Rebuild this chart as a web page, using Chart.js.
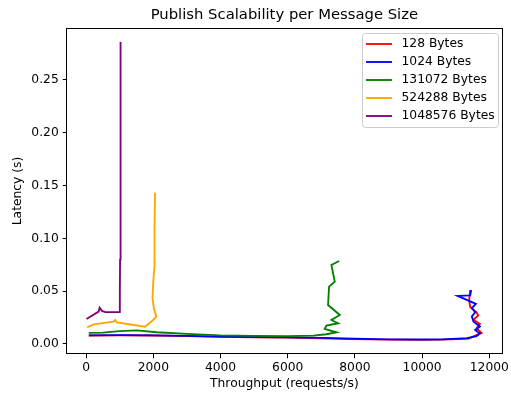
<!DOCTYPE html>
<html>
<head>
<meta charset="utf-8">
<title>Publish Scalability per Message Size</title>
<script src="https://cdn.jsdelivr.net/npm/chart.js@4/dist/chart.umd.min.js"></script>
<style>
    html, body { margin: 0; padding: 0; background: #ffffff; }
    #wrap { width: 511px; height: 394px; }
</style>
</head>
<body>
<div id="wrap"><canvas id="scalabilityChart" width="511" height="394"></canvas></div>
<script>
// --- Data ---
const sizeLabels = ['128 Bytes', '1024 Bytes', '131072 Bytes', '524288 Bytes', '1048576 Bytes'];
const sizeColors = ['#ff0000', '#0000ff', '#008000', '#ffa500', '#800080'];

const thr128 = [80, 1000, 2000, 3000, 4000, 5000, 6000, 7000, 8000, 9000, 10000, 10600, 11380, 11770, 11620, 11720, 11530, 11670, 11620, 11430, 11400, 11430];
const lat128 = [0.0080, 0.0082, 0.0080, 0.0074, 0.0067, 0.0063, 0.0060, 0.0054, 0.0046, 0.0041, 0.0039, 0.0041, 0.0050, 0.0105, 0.0150, 0.0190, 0.0230, 0.0270, 0.0300, 0.0350, 0.0420, 0.0511];

const thr1024 = [80, 1000, 2000, 3000, 4000, 5000, 6000, 7000, 8000, 9000, 10000, 10600, 11330, 11620, 11720, 11580, 11720, 11530, 11480, 11580, 11480, 11600, 11060, 11430, 11460];
const lat1024 = [0.0082, 0.0084, 0.0082, 0.0076, 0.0069, 0.0066, 0.0063, 0.0057, 0.0049, 0.0044, 0.0042, 0.0044, 0.0054, 0.0075, 0.0100, 0.0133, 0.0165, 0.0210, 0.0260, 0.0300, 0.0340, 0.0380, 0.0455, 0.0460, 0.0511];

const thr131072 = [77, 500, 1000, 1500, 2100, 3000, 4000, 5000, 6000, 6760, 7150, 7450, 7100, 7150, 7500, 7300, 7550, 7200, 7230, 7400, 7300, 7530];
const lat131072 = [0.0105, 0.0107, 0.0122, 0.0128, 0.0111, 0.0095, 0.0081, 0.0077, 0.0074, 0.0079, 0.0092, 0.0111, 0.0142, 0.0174, 0.0196, 0.0227, 0.0275, 0.0369, 0.0543, 0.0590, 0.0748, 0.0786];

const thr524288 = [30, 225, 815, 865, 915, 1750, 1995, 2090, 2015, 1975, 2000, 2040, 2035, 2050];
const lat524288 = [0.0158, 0.0186, 0.0211, 0.0227, 0.0205, 0.0164, 0.0227, 0.0259, 0.0338, 0.0433, 0.0600, 0.0764, 0.1080, 0.1433];

const thr1048576 = [10, 370, 400, 470, 570, 990, 1000, 1005, 1010, 1015, 1020, 1025, 1030, 1032];
const lat1048576 = [0.0237, 0.0306, 0.0344, 0.0313, 0.0301, 0.0301, 0.0350, 0.0500, 0.0800, 0.1000, 0.1500, 0.2000, 0.2500, 0.2860];

const throughputTicks = [0, 2000, 4000, 6000, 8000, 10000, 12000];
const latencyTicks = [0, 0.05, 0.10, 0.15, 0.20, 0.25];

const FONT = '"DejaVu Sans", "Liberation Sans", sans-serif';
const BASE_SIZE = 12.3;   // 10pt at ~89 dpi
const TITLE_SIZE = 14.8;  // 12pt

// zip two arrays into {x, y} points
function toPoints(xs, ys) {
    return xs.map((x, i) => ({ x: x, y: ys[i] }));
}

// Frame, title, axis titles and matplotlib-like legend
const decorPlugin = {
    id: 'decor',
    afterDraw(chart) {
        const ctx = chart.ctx;
        const area = chart.chartArea;
        ctx.save();

        // frame (all four spines)
        ctx.strokeStyle = '#000000';
        ctx.lineWidth = 1;
        ctx.strokeRect(Math.round(area.left) - 0.5, Math.round(area.top) + 0.5,
            Math.round(area.right - area.left) + 1, Math.round(area.bottom - area.top) - 1);

        // title
        ctx.fillStyle = '#000000';
        ctx.textAlign = 'center';
        ctx.textBaseline = 'middle';
        ctx.font = TITLE_SIZE + 'px ' + FONT;
        ctx.fillText('Publish Scalability per Message Size', (area.left + area.right) / 2, 15);

        // axis titles
        ctx.font = BASE_SIZE + 'px ' + FONT;
        ctx.fillText('Throughput (requests/s)', (area.left + area.right) / 2, 384);
        ctx.save();
        ctx.translate(18, (area.top + area.bottom) / 2);
        ctx.rotate(-Math.PI / 2);
        ctx.fillText('Latency (s)', 0, 0);
        ctx.restore();

        // legend
        const bx = 362.5, by = 33.5, bw = 136, bh = 94;
        ctx.beginPath();
        ctx.roundRect(bx, by, bw, bh, 3);
        ctx.fillStyle = 'rgba(255,255,255,0.8)';
        ctx.fill();
        ctx.strokeStyle = '#cccccc';
        ctx.lineWidth = 1;
        ctx.stroke();

        ctx.textAlign = 'left';
        ctx.font = BASE_SIZE + 'px ' + FONT;
        sizeLabels.forEach((label, i) => {
            const y = 44 + i * 18;
            ctx.beginPath();
            ctx.moveTo(366, y);
            ctx.lineTo(392, y);
            ctx.strokeStyle = sizeColors[i];
            ctx.lineWidth = 1.85;
            ctx.stroke();
            ctx.fillStyle = '#000000';
            ctx.fillText(label, 401.5, y);
        });
        ctx.restore();
    }
};

function createScalabilityChart() {
    const ctx = document.getElementById('scalabilityChart');
    const series = [
        [thr128, lat128],
        [thr1024, lat1024],
        [thr131072, lat131072],
        [thr524288, lat524288],
        [thr1048576, lat1048576]
    ];

    const datasets = series.map((s, i) => ({
        label: sizeLabels[i],
        data: toPoints(s[0], s[1]),
        borderColor: sizeColors[i],
        backgroundColor: sizeColors[i],
        borderWidth: 1.85,
        pointRadius: 0,
        tension: 0,
        fill: false,
        order: series.length - i // later series drawn on top, like matplotlib
    }));

    new Chart(ctx, {
        type: 'line',
        data: { datasets: datasets },
        plugins: [decorPlugin],
        options: {
            responsive: false,
            animation: false,
            devicePixelRatio: 1,
            layout: { padding: { top: 28, right: 4, bottom: 0, left: 0 } },
            plugins: {
                legend: { display: false },
                title: { display: false },
                tooltip: { enabled: false }
            },
            scales: {
                x: {
                    type: 'linear',
                    min: -570,
                    max: 12370,
                    afterFit: scale => { scale.height = 40; },
                    afterBuildTicks: scale => { scale.ticks = throughputTicks.map(v => ({ value: v })); },
                    border: { display: false },
                    grid: { drawOnChartArea: false, drawTicks: true, tickLength: 4.3, color: '#000000', tickWidth: 1 },
                    ticks: {
                        color: '#000000',
                        padding: 2,
                        maxRotation: 0,
                        autoSkip: false,
                        font: { family: FONT, size: BASE_SIZE },
                        callback: v => String(v)
                    }
                },
                y: {
                    type: 'linear',
                    min: -0.0095,
                    max: 0.2992,
                    afterFit: scale => { scale.width = 67; },
                    afterBuildTicks: scale => { scale.ticks = latencyTicks.map(v => ({ value: v })); },
                    border: { display: false },
                    grid: { drawOnChartArea: false, drawTicks: true, tickLength: 4.3, color: '#000000', tickWidth: 1 },
                    ticks: {
                        color: '#000000',
                        padding: 4,
                        autoSkip: false,
                        font: { family: FONT, size: BASE_SIZE },
                        callback: v => v.toFixed(2)
                    }
                }
            }
        }
    });
}

document.addEventListener('DOMContentLoaded', createScalabilityChart);
</script>
</body>
</html>
